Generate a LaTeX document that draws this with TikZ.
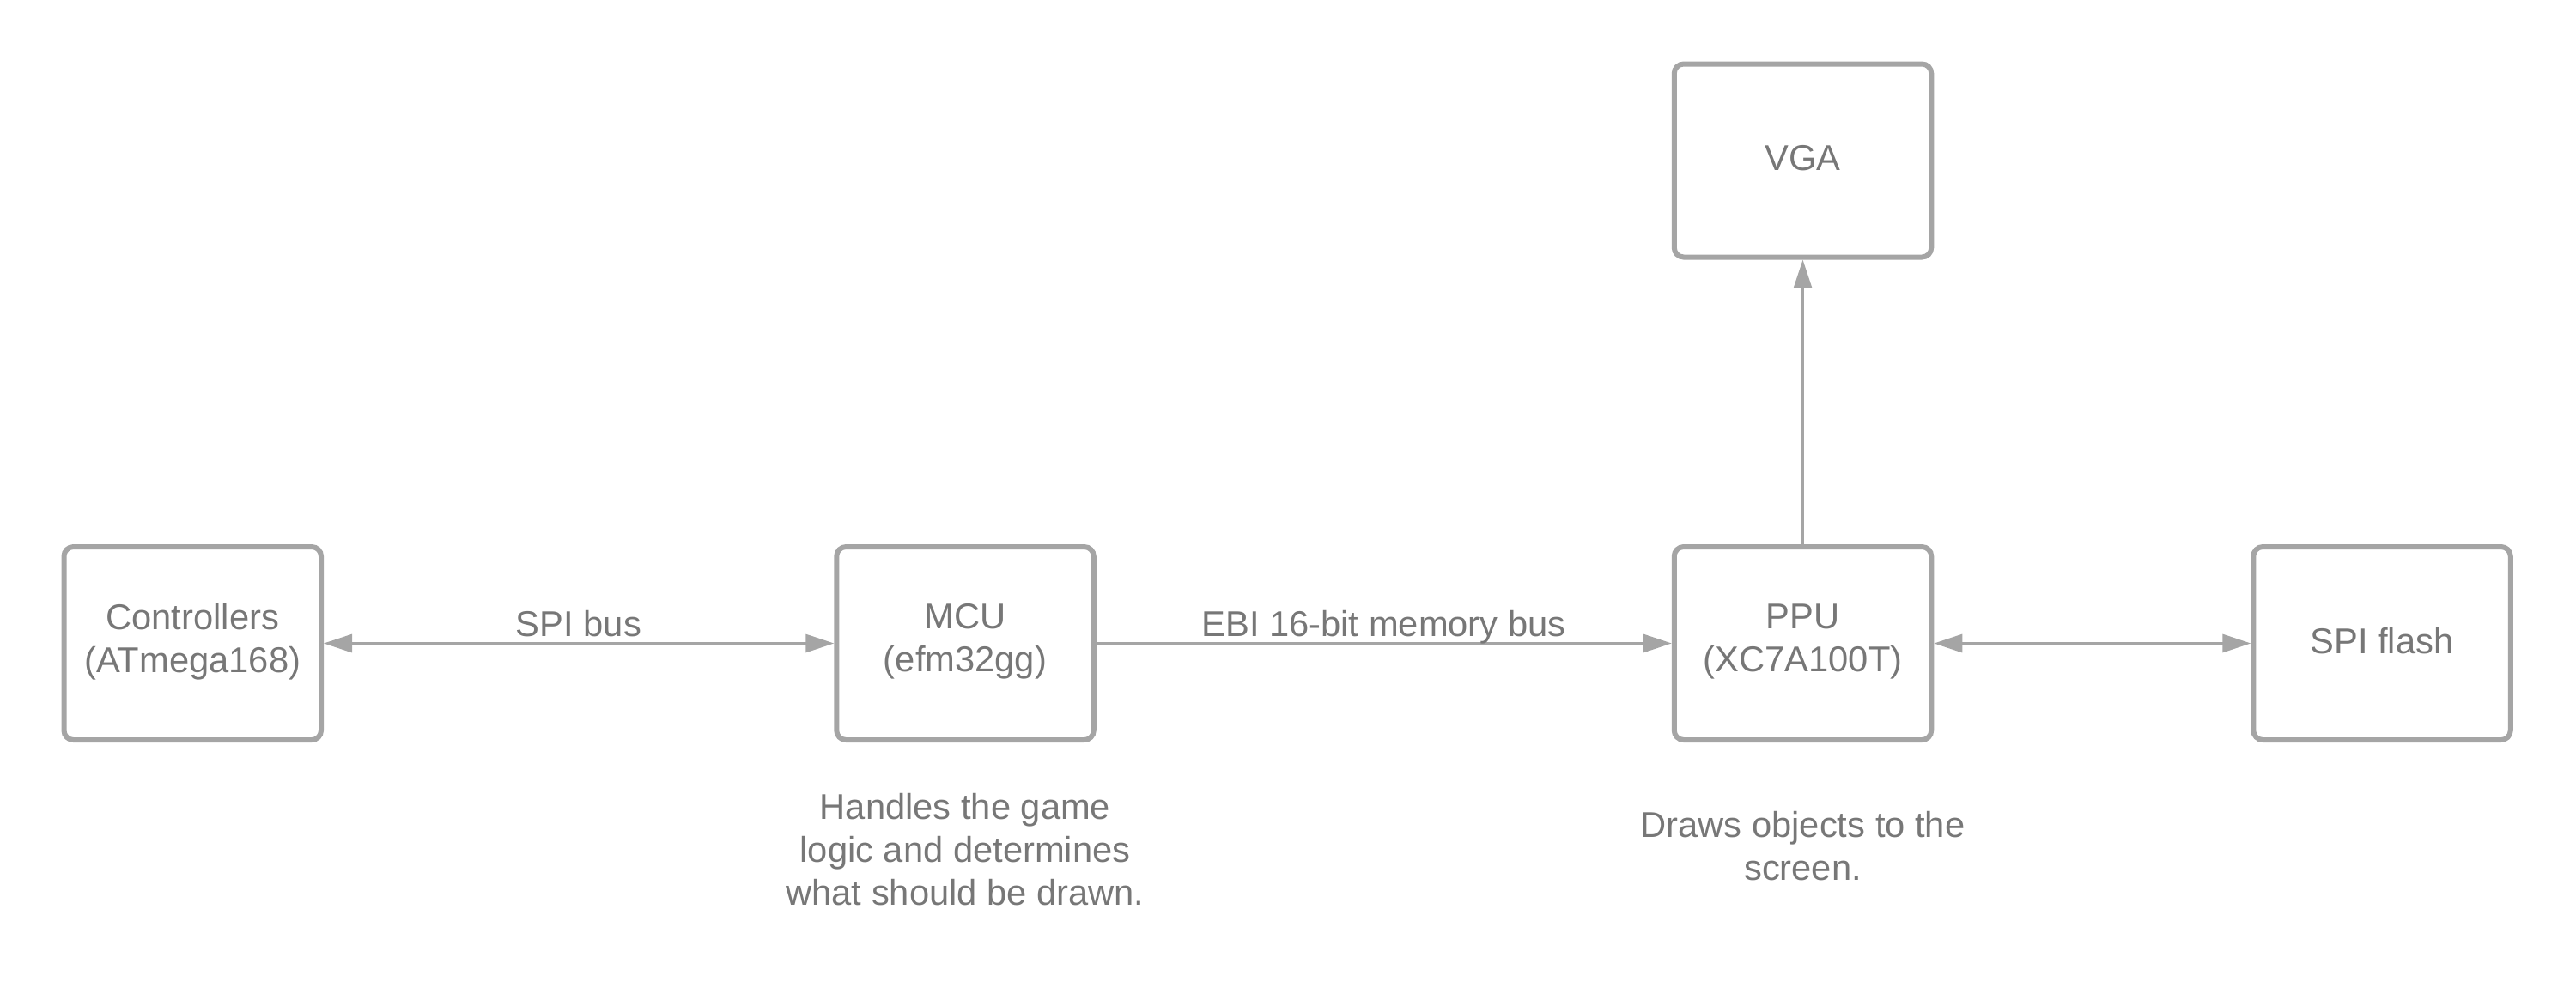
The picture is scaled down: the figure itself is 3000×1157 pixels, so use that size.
\documentclass[tikz,border=0pt]{standalone}
\usepackage{fontspec}
\setmainfont{Liberation Sans}
\usetikzlibrary{arrows.meta}
\definecolor{linegray}{HTML}{A5A5A5}
\definecolor{textgray}{HTML}{777777}
\tikzset{
  blockbox/.style={draw=linegray, line width=6pt, rounded corners=11pt, fill=white,
    minimum width=299.5pt, minimum height=225pt, inner sep=0pt, align=center,
    text=textgray, font=\fontsize{41.7}{50}\selectfont},
  oneline/.style={text depth=7pt},
  twoline/.style={text depth=13pt},
  conn/.style={draw=linegray, line width=3pt,
    arrows={-}, >={Triangle[length=33pt,width=21pt]}},
  lbl/.style={text=textgray, font=\fontsize{41.7}{50}\selectfont, inner sep=0pt, align=center},
}
\begin{document}
\begin{tikzpicture}[x=1pt,y=-1pt]
\useasboundingbox (0,0) rectangle (3000,1157);
\node[blockbox,twoline] (ctrl) at (224.25,749.5) {Controllers\\(ATmega168)};
\node[blockbox,twoline] (mcu)  at (1124,749.5) {MCU\\(efm32gg)};
\node[blockbox,twoline] (ppu)  at (2099.5,749.5) {PPU\\(XC7A100T)};
\node[blockbox,oneline] (spi)  at (2774,749.5) {SPI flash};
\node[blockbox,oneline] (vga)  at (2099.5,187) {VGA};
\draw[conn,<->] (ctrl) -- (mcu);
\draw[conn,->] (mcu) -- (ppu);
\draw[conn,<->] (ppu) -- (spi);
\draw[conn,->] (ppu) -- (vga);
\node[lbl, anchor=base] (spibus) at (674,741) {SPI bus};
\node[lbl, anchor=base] (ebibus) at (1611.5,741) {EBI 16-bit memory bus};
\node[lbl, anchor=north] (mcudesc) at (1124,924) {Handles the game\\logic and determines\\what should be drawn.};
\node[lbl, anchor=north] (ppudesc) at (2099.5,945) {Draws objects to the\\screen.};
\end{tikzpicture}
\end{document}
